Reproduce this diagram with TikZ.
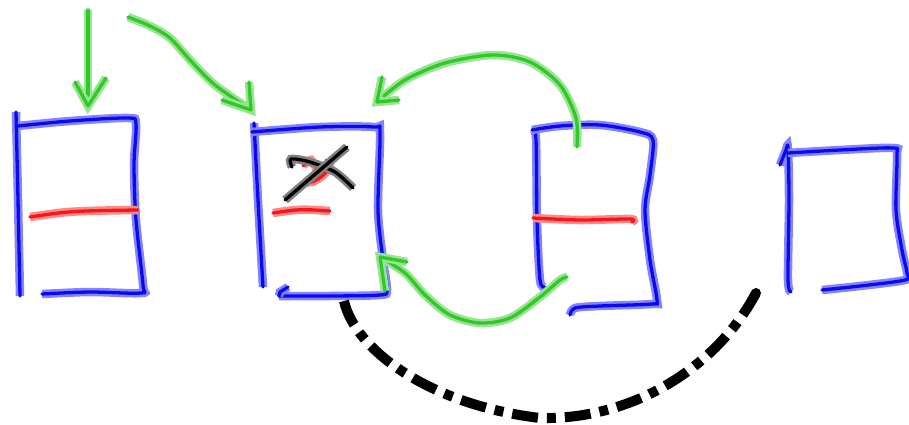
\documentclass[tikz,border=0pt]{standalone}
\usetikzlibrary{positioning,calc}
\definecolor{InkBlue}{RGB}{10,10,240}
\definecolor{InkGreen}{RGB}{50,200,40}
\definecolor{InkRed}{RGB}{250,20,20}
\definecolor{InkBlack}{RGB}{0,0,0}
\tikzset{
  ink/.style={draw=#1,line width=3.3pt,line cap=round,line join=round,
    preaction={draw=#1!50!white,line width=8.5pt}},
  cell/.style={ink=InkBlue},
  link/.style={ink=InkGreen},
  slot/.style={ink=InkRed},
  strike/.style={ink=InkBlack},
  jump/.style={draw=black,line width=10pt,dash pattern=on 26pt off 9pt on 9pt off 9pt},
}

\begin{document}
\begin{tikzpicture}[x=1pt,y=-1pt]
\useasboundingbox (0,0) rectangle (909,425);
% arrow ends
\coordinate (inA) at (88,10);
\coordinate (tipA) at (88,106);
\coordinate (inB) at (128,17);
\coordinate (tipB) at (251,110);
\coordinate (inC) at (577,147);
\coordinate (tipC) at (377,102);
\coordinate (inD) at (567,277);
\coordinate (tipD) at (380,257);
\coordinate (jumpFrom) at (344,301);
\coordinate (jumpTo) at (756,293);
% first cell
\draw[cell] plot[smooth] coordinates {(16,112) (18,200) (20,296)};
\draw[cell] plot[smooth] coordinates {(18,126) (70,121) (128,118) (136,124) (134,165)
  (136,220) (143,285) (141,293) (90,292) (42,294)};
\draw[slot] (30,217) .. controls (70,211) .. (138,210);
% second cell
\draw[cell] plot[smooth] coordinates {(254,123) (258,200) (263,287)};
\draw[cell] plot[smooth] coordinates {(252,132) (320,127) (374,127) (380,133) (378,210)
  (383,260) (387,290) (380,295) (330,296) (279,296)};
\draw[cell] (279,296) -- (280,292) -- (288,287);
\draw[slot] (273,213) .. controls (300,209) .. (330,211);
\draw[slot] plot[smooth] coordinates {(303,166) (311,160) (317,172) (311,182) (321,177)
  (330,167) (326,160)};
\draw[strike] plot[smooth] coordinates {(292,167) (291,159) (310,162) (335,172) (353,188)};
\draw[strike] (285,200) -- (347,147);
% third cell
\draw[cell] plot[smooth] coordinates {(533,130) (536,140) (537,220) (540,280) (545,287)};
\draw[cell] plot[smooth] coordinates {(532,130) (560,126) (600,125) (640,132) (653,140)
  (650,175) (645,210) (650,260) (657,300) (652,304) (600,306) (575,308) (570,315)};
\draw[slot] plot[smooth] coordinates {(533,218) (580,220) (630,219) (632,222)};
% fourth cell
\draw[cell] plot[smooth] coordinates {(780,165) (786,150) (788,148) (789,200) (788,280)
  (791,292)};
\draw[cell] plot[smooth] coordinates {(788,153) (840,150) (893,148) (897,155) (896,210)
  (902,250) (907,273) (905,280) (860,286) (822,290)};
% green arrows
\draw[link] (inA) -- (tipA);
\draw[link] (75,82) -- (tipA) -- (106,78);
\draw[link] plot[smooth] coordinates {(inB) (150,26) (170,38) (190,60) (215,85) (tipB)};
\draw[link] (222,100) -- (tipB) -- (249,82);
\draw[link] plot[smooth] coordinates {(inC) (576,118) (560,85) (530,62) (493,55) (445,63)
  (405,80) (tipC)};
\draw[link] (382,77) -- (tipC) -- (399,100);
\draw[link] plot[smooth] coordinates {(inD) (560,280) (540,297) (510,318) (480,323)
  (450,315) (425,295) (405,273) (tipD)};
\draw[link] (385,291) -- (tipD) -- (407,262);
% dash-dot link
\draw[jump] (jumpFrom) .. controls (355,350) and (430,405) .. (540,418)
  .. controls (630,420) and (715,370) .. (jumpTo);
\fill (jumpTo) circle (5pt);
\end{tikzpicture}
\end{document}
